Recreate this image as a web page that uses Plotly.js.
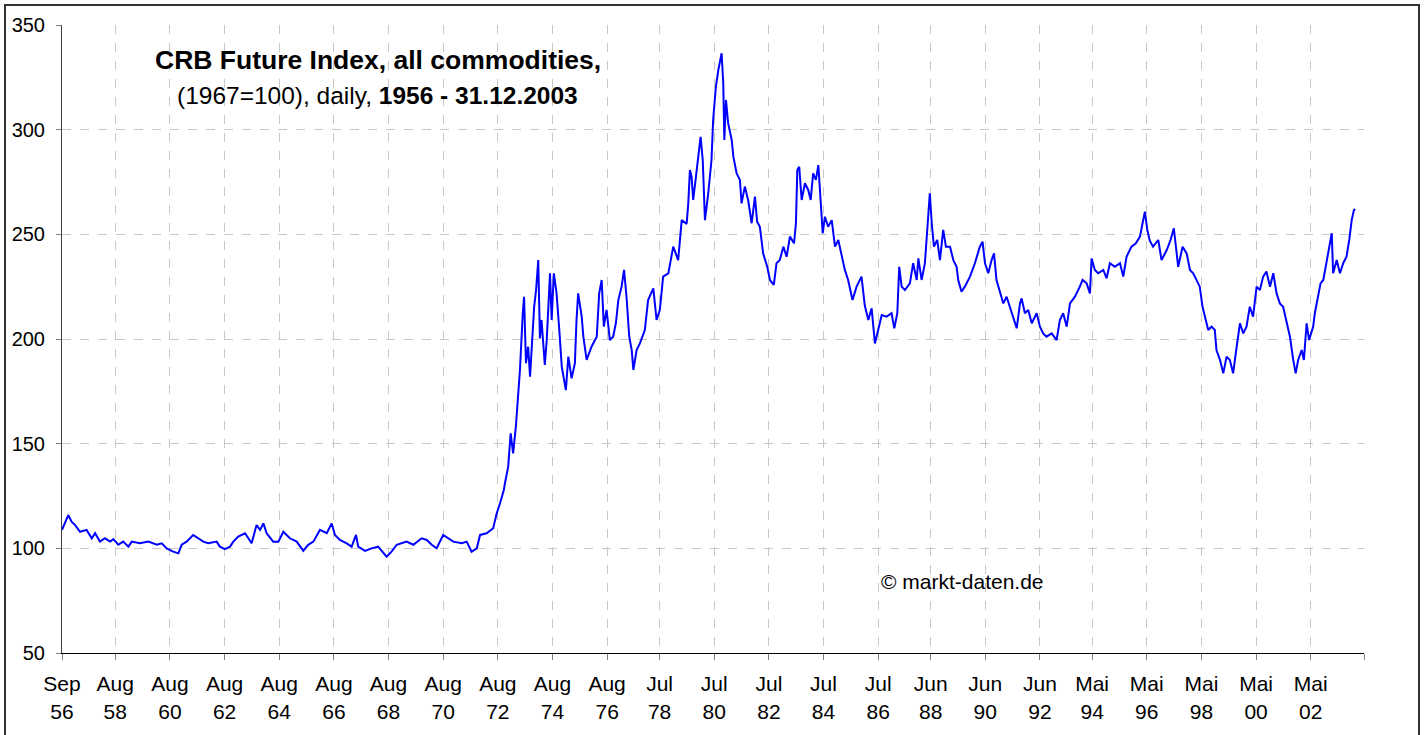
<!DOCTYPE html>
<html>
<head>
<meta charset="utf-8">
<script src="https://cdn.plot.ly/plotly-3.0.1.min.js"></script>
<style>
html,body{margin:0;padding:0;background:#fff;overflow:hidden;}
#chart{position:absolute;left:0;top:0;width:1425px;height:735px;}
#frame{position:absolute;left:4px;top:4px;width:1412px;height:800px;border:2px solid #333;pointer-events:none;}
</style>
</head>
<body>
<div id="chart"></div>
<div id="frame"></div>
<script>
// Date as decimal year, value = CRB index (1967=100)
const years = [
1956.67,1956.90,1957.02,1957.15,1957.33,1957.57,1957.76,1957.88,1958.06,1958.24,
1958.43,1958.55,1958.73,1958.91,1959.10,1959.22,1959.52,1959.83,1960.14,1960.32,
1960.50,1960.74,1960.93,1961.05,1961.23,1961.47,1961.66,1961.84,1962.02,1962.33,
1962.45,1962.63,1962.82,1962.94,1963.12,1963.37,1963.61,1963.79,1963.92,1964.04,
1964.16,1964.40,1964.59,1964.77,1965.01,1965.26,1965.50,1965.68,1965.87,1966.11,
1966.36,1966.54,1966.66,1966.84,1967.09,1967.27,1967.43,1967.51,1967.76,1968.00,
1968.24,1968.55,1968.73,1968.92,1969.28,1969.53,1969.83,1970.02,1970.20,1970.38,
1970.62,1970.81,1970.99,1971.30,1971.48,1971.66,1971.85,1971.97,1972.21,1972.45,
1972.58,1972.70,1972.84,1972.88,1973.00,1973.09,1973.18,1973.28,1973.37,1973.43,
1973.53,1973.58,1973.65,1973.73,1973.80,1973.89,1973.95,1974.02,1974.10,1974.16,
1974.22,1974.34,1974.41,1974.53,1974.59,1974.67,1974.77,1974.87,1974.96,1975.11,
1975.20,1975.32,1975.44,1975.50,1975.56,1975.69,1975.75,1975.87,1976.05,1976.24,
1976.33,1976.42,1976.50,1976.60,1976.72,1976.84,1976.94,1977.03,1977.15,1977.24,
1977.33,1977.43,1977.52,1977.58,1977.70,1977.82,1978.00,1978.12,1978.31,1978.43,
1978.55,1978.67,1978.86,1979.04,1979.22,1979.35,1979.53,1979.59,1979.65,1979.71,
1979.77,1979.87,1979.95,1980.04,1980.12,1980.20,1980.32,1980.44,1980.50,1980.60,
1980.69,1980.81,1980.87,1980.91,1980.97,1981.05,1981.18,1981.24,1981.36,1981.48,
1981.54,1981.66,1981.78,1981.91,1982.03,1982.11,1982.21,1982.33,1982.48,1982.58,
1982.72,1982.82,1982.94,1983.07,1983.19,1983.31,1983.46,1983.53,1983.58,1983.65,
1983.74,1983.86,1983.98,1984.07,1984.16,1984.26,1984.35,1984.41,1984.51,1984.59,
1984.71,1984.84,1984.96,1985.08,1985.20,1985.32,1985.44,1985.60,1985.75,1985.93,
1986.05,1986.18,1986.30,1986.42,1986.54,1986.67,1986.85,1987.03,1987.13,1987.24,
1987.31,1987.40,1987.52,1987.70,1987.82,1987.95,1988.01,1988.13,1988.25,1988.37,
1988.43,1988.50,1988.58,1988.70,1988.80,1988.92,1989.02,1989.17,1989.29,1989.41,
1989.47,1989.59,1989.71,1989.90,1990.08,1990.26,1990.36,1990.45,1990.57,1990.69,
1990.78,1990.87,1991.00,1991.12,1991.24,1991.36,1991.48,1991.61,1991.73,1991.79,
1991.91,1992.03,1992.16,1992.34,1992.46,1992.58,1992.70,1992.89,1993.07,1993.19,
1993.31,1993.44,1993.56,1993.74,1993.92,1994.02,1994.17,1994.29,1994.35,1994.47,
1994.59,1994.78,1994.90,1995.02,1995.20,1995.39,1995.51,1995.63,1995.81,1995.97,
1996.12,1996.22,1996.30,1996.39,1996.48,1996.60,1996.79,1996.91,1997.10,1997.24,
1997.36,1997.52,1997.68,1997.83,1997.95,1998.07,1998.19,1998.31,1998.41,1998.50,
1998.62,1998.74,1998.86,1998.92,1999.05,1999.17,1999.29,1999.41,1999.53,1999.66,
1999.78,1999.90,2000.02,2000.14,2000.26,2000.39,2000.51,2000.63,2000.75,2000.88,
2001.00,2001.12,2001.24,2001.36,2001.49,2001.61,2001.73,2001.82,2001.91,2002.04,
2002.12,2002.22,2002.31,2002.46,2002.52,2002.64,2002.73,2002.83,2002.95,2003.07,
2003.14,2003.19,2003.32,2003.44,2003.56,2003.68,2003.78,2003.87,2003.95,2004.00
];
const values = [
108.8,115.9,112.7,111.1,107.9,108.8,104.8,107.2,103.2,104.8,
103.2,104.4,101.7,103.2,100.8,103.2,102.4,103.2,101.7,102.4,
100.0,98.4,97.6,101.7,103.2,106.4,104.8,103.2,102.4,103.2,
100.8,99.6,100.8,103.2,105.6,107.2,102.4,111.1,108.8,111.9,
107.2,103.2,103.2,107.9,104.8,103.2,98.8,101.7,103.2,108.8,
107.2,111.9,106.4,104.0,102.4,100.8,106.4,100.8,98.8,100.0,
100.8,96.0,98.4,101.7,103.2,101.7,104.8,104.0,101.7,100.0,
106.4,104.8,103.2,102.4,103.2,98.4,100.0,106.4,107.2,109.6,
116.7,121.5,127.8,131.1,139.0,154.9,145.4,158.1,174.1,185.2,
211.5,220.2,188.4,196.3,182.0,201.1,215.4,223.4,237.7,200.3,
209.1,187.6,199.5,231.4,209.1,231.4,221.8,204.3,186.8,175.6,
191.6,181.2,188.4,209.1,221.8,210.7,201.1,190.0,196.3,201.1,
221.8,228.2,205.9,213.9,199.5,201.1,207.5,218.6,225.0,233.0,
220.2,201.1,194.7,185.2,194.7,197.9,204.3,218.6,224.2,209.1,
213.9,229.8,231.4,244.1,237.7,256.8,255.0,264.8,280.7,277.5,
266.4,277.5,287.1,296.6,285.5,256.8,269.6,285.5,304.6,320.5,
328.5,336.5,322.2,295.1,314.2,303.0,295.1,287.1,279.1,276.0,
264.8,272.8,266.4,255.3,268.0,256.0,253.6,240.9,234.5,228.2,
225.8,236.2,237.7,244.1,239.3,248.9,245.7,255.3,280.7,282.3,
266.4,274.4,271.2,266.4,279.1,276.0,283.1,269.6,250.5,258.4,
253.6,256.8,244.1,247.3,240.9,233.0,228.2,218.6,225.0,229.8,
216.0,209.1,214.7,197.9,204.3,211.5,210.7,212.3,205.1,212.3,
234.5,225.0,223.4,226.6,236.2,228.2,238.5,228.2,236.2,260.0,
269.6,255.3,244.1,247.3,237.7,252.1,244.1,244.1,237.7,234.5,
228.2,222.6,225.0,229.8,236.2,244.1,246.5,236.2,231.4,237.7,
240.9,228.2,221.8,217.0,220.2,215.4,210.7,205.1,217.0,219.4,
212.3,213.9,207.5,212.3,205.9,202.7,201.1,202.7,199.5,209.1,
212.3,205.9,217.0,220.2,225.0,228.2,226.6,221.8,238.5,233.0,
231.4,233.0,229.0,236.2,234.5,236.2,229.8,239.3,244.1,245.7,
248.9,255.3,260.8,252.1,247.0,244.1,247.3,237.7,242.5,247.3,
252.9,234.5,244.1,240.9,233.0,231.4,228.2,225.0,215.4,210.7,
204.3,205.9,204.3,194.7,190.0,183.6,191.6,190.0,183.6,196.3,
207.5,202.7,205.9,215.4,210.7,225.0,223.4,229.8,232.2,225.0,
231.4,221.8,217.0,215.4,207.5,201.1,190.0,183.6,190.0,194.7,
190.0,207.5,199.5,205.9,212.3,220.2,226.6,228.2,236.2,244.1,
250.5,231.4,237.7,231.4,236.2,239.3,247.3,256.8,261.6,262.0
];

// x-axis category labels (every second year)
const tickYears = [1956.67,1958.62,1960.62,1962.62,1964.62,1966.62,1968.62,1970.62,1972.62,
  1974.62,1976.62,1978.54,1980.54,1982.54,1984.54,1986.54,1988.46,1990.46,1992.46,1994.37,
  1996.37,1998.37,2000.37,2002.37,2004.32];
const tickMonths = ['Sep','Aug','Aug','Aug','Aug','Aug','Aug','Aug','Aug','Aug','Aug','Jul','Jul',
  'Jul','Jul','Jul','Jun','Jun','Jun','Mai','Mai','Mai','Mai','Mai',''];
const tickYY = ['56','58','60','62','64','66','68','70','72','74','76','78','80','82','84','86',
  '88','90','92','94','96','98','00','02',''];
const yTicks = [50,100,150,200,250,300,350];

const FONT = 'Liberation Sans, Arial, sans-serif';
const tickText = tickMonths.map((m,i)=> m ? m + '<br>' + tickYY[i] : '');

const trace = {
  x: years, y: values, type: 'scatter', mode: 'lines',
  line: {color: '#0000ff', width: 2},
  hoverinfo: 'x+y'
};

const layout = {
  width: 1425, height: 735,
  margin: {l: 62, r: 61, t: 25, b: 82},
  paper_bgcolor: '#ffffff', plot_bgcolor: '#ffffff',
  showlegend: false,
  font: {family: FONT, color: '#000', size: 20},
  xaxis: {
    type: 'linear', range: [1956.67, 2004.32], autorange: false,
    tickmode: 'array', tickvals: tickYears, ticktext: tickText,
    ticks: 'outside', ticklen: 6, tickcolor: '#808080', tickwidth: 1,
    showline: true, linecolor: '#000', linewidth: 1,
    showgrid: true, gridcolor: '#c8c8c8', griddash: 'dash', gridwidth: 1,
    zeroline: false, tickfont: {family: FONT, size: 21, color: '#000'},
    ticklabelstandoff: 6
  },
  yaxis: {
    range: [50, 350], autorange: false,
    tickmode: 'array', tickvals: yTicks,
    ticks: 'outside', ticklen: 5, tickcolor: '#808080', tickwidth: 1,
    showline: true, linecolor: '#404040', linewidth: 1,
    showgrid: true, gridcolor: '#c8c8c8', griddash: 'dash', gridwidth: 1,
    zeroline: false, tickfont: {family: FONT, size: 20, color: '#000'},
    ticklabelstandoff: 7
  },
  annotations: [
    {xref: 'paper', yref: 'paper', x: 0.2427, y: 0.944, xanchor: 'center', yanchor: 'middle', showarrow: false,
     text: '<b>CRB Future Index, all commodities,</b>', font: {family: FONT, size: 26.5, color: '#000'}},
    {xref: 'paper', yref: 'paper', x: 0.2427, y: 0.8885, xanchor: 'center', yanchor: 'middle', showarrow: false,
     text: '(1967=100), daily, <b>1956 - 31.12.2003</b>', font: {family: FONT, size: 24.5, color: '#000'}},
    {xref: 'paper', yref: 'paper', x: 0.692, y: 0.1146, xanchor: 'center', yanchor: 'middle', showarrow: false,
     text: '© markt-daten.de', font: {family: FONT, size: 21, color: '#000'}}
  ]
};

Plotly.newPlot('chart', [trace], layout, {displayModeBar: false, staticPlot: true});
</script>
</body>
</html>
